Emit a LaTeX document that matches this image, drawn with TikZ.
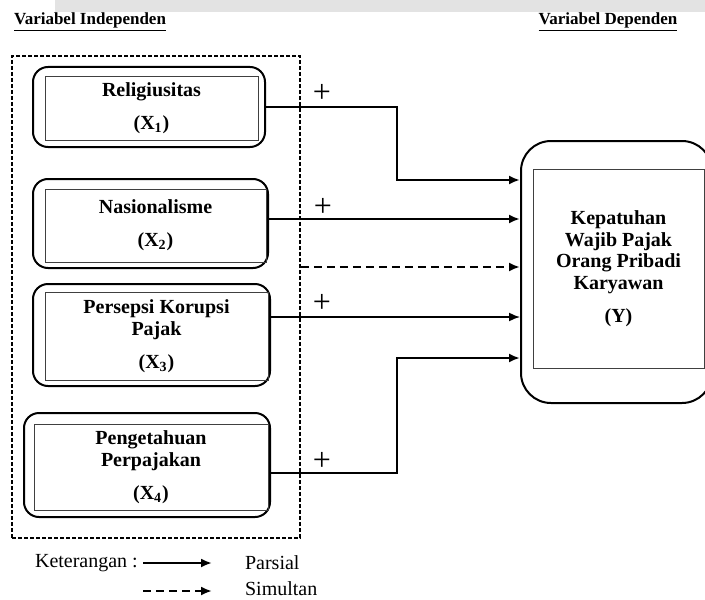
\documentclass[tikz,border=0pt]{standalone}
\usepackage{fontspec}
\setmainfont{Liberation Serif}
\usetikzlibrary{arrows.meta}

\tikzset{
  outerbox/.style={draw,line width=1pt,rounded corners=7.5pt,inner sep=0pt},
  innerbox/.style={draw=black!75,line width=0.45pt,inner sep=0pt,align=center,
    font=\fontsize{10}{10.75}\selectfont\bfseries},
  parsial/.style={line width=1.1pt,-{Latex[length=5.5pt,width=4.5pt]}},
  simultan/.style={parsial,dash pattern=on 4pt off 2.5pt},
  plus/.style={font=\fontsize{16}{16}\selectfont}
}

\begin{document}
\begin{tikzpicture}[x=0.5pt,y=-0.5pt]
\useasboundingbox (0,0) rectangle (705,599);
\clip (0,0) rectangle (705,599);
\fill[gray!22] (55,0) rectangle (705,12);

%%% headings %%%
\node (hind) at (90,22) [font=\fontsize{8.5}{8.5}\selectfont\bfseries] {\underline{Variabel Independen}};
\node (hdep) at (608,22) [font=\fontsize{8.5}{8.5}\selectfont\bfseries] {\underline{Variabel Dependen}};

%%% independent variables %%%
  \node (frame) at (156,297) [draw,line width=0.8pt,dash pattern=on 2pt off 1pt,minimum width=144pt,minimum height=241pt] {};

  \node (x1) at (149,107) [outerbox,minimum width=116pt,minimum height=40pt] {};
  \node (x1in) at (151.5,108) [innerbox,minimum width=106.5pt,minimum height=32pt] {Religiusitas\\[5.75pt](X\textsubscript{1})};
  \node (x2) at (150.5,223.5) [outerbox,minimum width=117.5pt,minimum height=44.5pt] {};
  \node (x2in) at (155.5,225.5) [innerbox,minimum width=110.5pt,minimum height=36.5pt] {Nasionalisme\\[5.75pt](X\textsubscript{2})};
  \node (x3) at (151.5,335) [outerbox,minimum width=118.5pt,minimum height=51pt] {};
  \node (x3in) at (156.5,336) [innerbox,minimum width=111.5pt,minimum height=44pt] {Persepsi Korupsi\\Pajak\\[5.75pt](X\textsubscript{3})};
  \node (x4) at (147,465) [outerbox,minimum width=123pt,minimum height=52pt] {};
  \node (x4in) at (151,467) [innerbox,minimum width=117pt,minimum height=43pt] {Pengetahuan\\Perpajakan\\[5.75pt](X\textsubscript{4})};

%%% dependent variable %%%
  \node (y) at (616.5,272) [outerbox,rounded corners=15pt,minimum width=95.5pt,minimum height=131pt] {};
  \node (yin) at (618.5,268.5) [innerbox,minimum width=85.5pt,minimum height=99.5pt] {Kepatuhan\\Wajib Pajak\\Orang Pribadi\\Karyawan\\[5.75pt](Y)};

\draw (322,93) node [plus] {+}
    (323,207) node [plus] {+}
    (322,303) node [plus] {+}
    (322,461) node [plus] {+};

\draw [parsial]
   (x1.east) -| (397,180) -- (y.west |- 0,180);
\draw [parsial]
   (x2.east |- 0,219) -- (y.west |- 0,219);
\draw [parsial,line width=0.8pt]
   (x3.east |- 0,317) -- (y.west |- 0,317);
\draw [parsial]
   (x4.east |- 0,473) -| (397,358) -- (y.west |- 0,358);
\draw [simultan]
   (frame.east |- 0,267) -- (y.west |- 0,267);

%%% legend %%%
\node (ket) at (28,563) [anchor=west,font=\fontsize{10}{10}\selectfont] {Keterangan :};
\node (par) at (238,563) [anchor=west,font=\fontsize{10}{10}\selectfont] {Parsial};
\node (sim) at (238,589) [anchor=west,font=\fontsize{10}{10}\selectfont] {Simultan};
\coordinate (pa) at (143,563);
\coordinate (sa) at (143,591);
\draw [parsial] (pa) -- (pa -| 212,0);
\draw [simultan] (sa) -- (sa -| 212,0);
\end{tikzpicture}
\end{document}
